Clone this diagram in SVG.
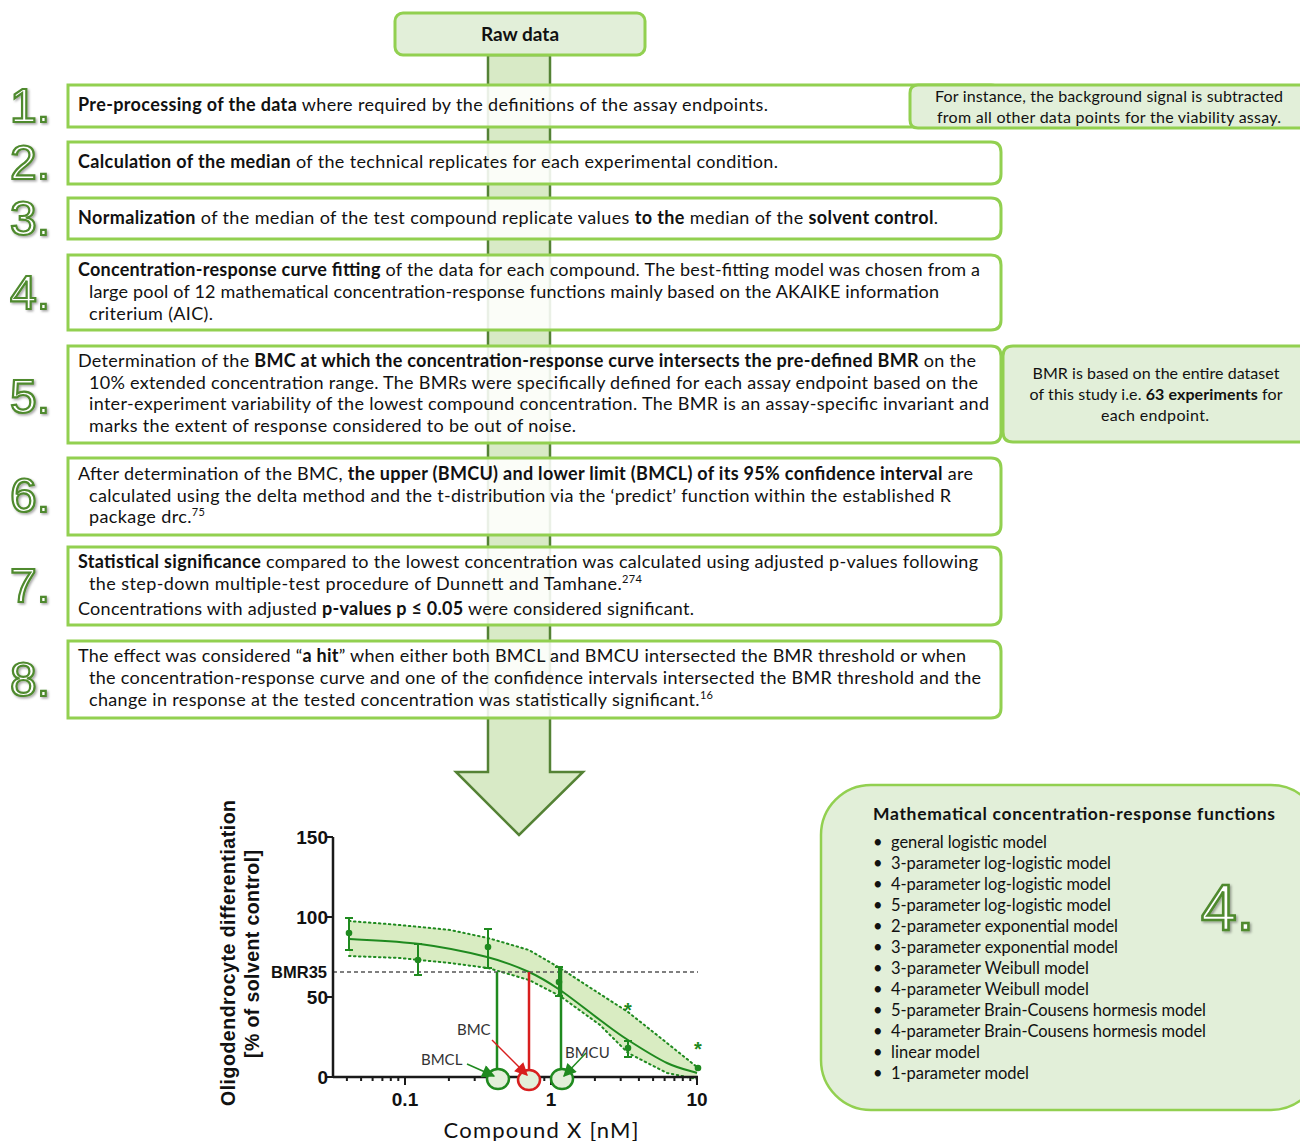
<svg xmlns="http://www.w3.org/2000/svg" width="1300" height="1141" viewBox="0 0 1300 1141">
<style>
.box{fill:#fff;fill-opacity:.88;stroke:#92d050;stroke-width:3}
.note{fill:#e2efd9;stroke:#92d050;stroke-width:3}
.t{font-family:Lato,"Liberation Sans",sans-serif;font-size:18px;fill:#111}
.b{font-weight:bold}
.sup{font-size:11px}
.num{font-family:"Liberation Sans",Arial,sans-serif;font-size:48px;fill:#fff;stroke:#4f8a2e;stroke-width:2.2;filter:url(#sh)}
.nt{font-family:Lato,"Liberation Sans",sans-serif;font-size:16px;fill:#111;text-anchor:middle}
.li{font-family:Lato,"Liberation Sans",sans-serif;font-size:16.5px;fill:#111}
.ax{stroke:#1a1a1a;stroke-width:2.5;fill:none}
.tk{font-family:"Liberation Sans",Arial,sans-serif;font-weight:bold;font-size:19px;fill:#111}
.g{stroke:#1f8a1f;fill:none;stroke-width:2}
.lbl{font-family:Lato,"Liberation Sans",sans-serif;font-size:15px;fill:#333}
</style>
<defs>
<filter id="sh" x="-20%" y="-20%" width="150%" height="150%"><feDropShadow dx="1.5" dy="1.5" stdDeviation="1" flood-color="#000" flood-opacity="0.35"/></filter>
<marker id="ahG" viewBox="0 0 10 10" refX="9" refY="5" markerWidth="15" markerHeight="13" markerUnits="userSpaceOnUse" orient="auto"><path d="M0,0 L10,5 L0,10 z" fill="#1f8a1f"/></marker>
<marker id="ahR" viewBox="0 0 10 10" refX="9" refY="5" markerWidth="15" markerHeight="13" markerUnits="userSpaceOnUse" orient="auto"><path d="M0,0 L10,5 L0,10 z" fill="#d81e1e"/></marker>
</defs>
<rect width="1300" height="1141" fill="#fff"/>

<g id="connectors">
<path d="M488,55 V772 H456 L519,835 L583,772 H550 V55 Z" fill="#d8eac6" stroke="#548235" stroke-width="2.5" stroke-linejoin="miter"/>
</g>

<g id="raw-data">
<rect x="395" y="13" width="250" height="42" rx="8" class="note"/>
<text x="520" y="41" text-anchor="middle" font-family="Lato,'Liberation Sans',sans-serif" font-weight="bold" font-size="19" fill="#111">Raw data</text>
</g>

<g id="step1">
<path class="box" d="M68,85 H991 Q1001,85 1001,95 V117 Q1001,127 991,127 H68 Z"/>
<text class="num" x="10" y="122">1.</text>
<text class="t" x="78" y="111" textLength="690"><tspan class="b">Pre-processing of the data</tspan> where required by the definitions of the assay endpoints.</text>
</g>
<g id="note1">
<path class="note" d="M1320,85 H918 Q910,85 910,93 V120 Q910,128 918,128 H1320 Z"/>
<text class="nt" x="1109" y="102" textLength="348">For instance, the background signal is subtracted</text>
<text class="nt" x="1109" y="123" textLength="344">from all other data points for the viability assay.</text>
</g>

<g id="step2">
<path class="box" d="M68,142 H991 Q1001,142 1001,152 V174 Q1001,184 991,184 H68 Z"/>
<text class="num" x="10" y="179">2.</text>
<text class="t" x="78" y="168" textLength="700"><tspan class="b">Calculation of the median</tspan> of the technical replicates for each experimental condition.</text>
</g>

<g id="step3">
<path class="box" d="M68,198 H991 Q1001,198 1001,208 V229 Q1001,239 991,239 H68 Z"/>
<text class="num" x="10" y="235">3.</text>
<text class="t" x="78" y="224" textLength="860"><tspan class="b">Normalization</tspan> of the median of the test compound replicate values <tspan class="b">to the</tspan> median of the <tspan class="b">solvent control</tspan>.</text>
</g>

<g id="step4">
<path class="box" d="M68,255 H991 Q1001,255 1001,265 V320 Q1001,330 991,330 H68 Z"/>
<text class="num" x="10" y="309">4.</text>
<text class="t" x="78" y="276" textLength="902"><tspan class="b">Concentration-response curve fitting</tspan> of the data for each compound. The best-fitting model was chosen from a</text>
<text class="t" x="89" y="298" textLength="850">large pool of 12 mathematical concentration-response functions mainly based on the AKAIKE information</text>
<text class="t" x="89" y="320" textLength="124">criterium (AIC).</text>
</g>

<g id="step5">
<path class="box" d="M68,346 H991 Q1001,346 1001,356 V433 Q1001,443 991,443 H68 Z"/>
<text class="num" x="10" y="413">5.</text>
<text class="t" x="78" y="367" textLength="898">Determination of the <tspan class="b">BMC at which the concentration-response curve intersects the pre-defined BMR</tspan> on the</text>
<text class="t" x="89" y="389" textLength="889">10% extended concentration range. The BMRs were specifically defined for each assay endpoint based on the</text>
<text class="t" x="89" y="410" textLength="900">inter-experiment variability of the lowest compound concentration. The BMR is an assay-specific invariant and</text>
<text class="t" x="89" y="432" textLength="487">marks the extent of response considered to be out of noise.</text>
</g>
<g id="note5">
<path class="note" d="M1320,346 H1013 Q1003,346 1003,356 V432 Q1003,442 1013,442 H1320 Z"/>
<text class="nt" x="1156" y="379" textLength="247">BMR is based on the entire dataset</text>
<text class="nt" x="1156" y="400" textLength="253">of this study i.e. <tspan font-weight="bold">63 experiments</tspan> for</text>
<text class="nt" x="1155" y="421" textLength="108">each endpoint.</text>
</g>

<g id="step6">
<path class="box" d="M68,458 H991 Q1001,458 1001,468 V525 Q1001,535 991,535 H68 Z"/>
<text class="num" x="10" y="512">6.</text>
<text class="t" x="78" y="480" textLength="895">After determination of the BMC, <tspan class="b">the upper (BMCU) and lower limit (BMCL) of its 95% confidence interval</tspan> are</text>
<text class="t" x="89" y="502" textLength="862">calculated using the delta method and the t-distribution via the ‘predict’ function within the established R</text>
<text class="t" x="89" y="523" textLength="116">package drc.<tspan class="sup" dy="-7">75</tspan></text>
</g>

<g id="step7">
<path class="box" d="M68,547 H991 Q1001,547 1001,557 V615 Q1001,625 991,625 H68 Z"/>
<text class="num" x="10" y="602">7.</text>
<text class="t" x="78" y="568" textLength="900"><tspan class="b">Statistical significance</tspan> compared to the lowest concentration was calculated using adjusted p-values following</text>
<text class="t" x="89" y="590" textLength="553">the step-down multiple-test procedure of Dunnett and Tamhane.<tspan class="sup" dy="-7">274</tspan></text>
<text class="t" x="78" y="615" textLength="616">Concentrations with adjusted <tspan class="b">p-values p ≤ 0.05</tspan> were considered significant.</text>
</g>

<g id="step8">
<path class="box" d="M68,641 H991 Q1001,641 1001,651 V708 Q1001,718 991,718 H68 Z"/>
<text class="num" x="10" y="696">8.</text>
<text class="t" x="78" y="662" textLength="888">The effect was considered “<tspan class="b">a hit</tspan>” when either both BMCL and BMCU intersected the BMR threshold or when</text>
<text class="t" x="89" y="684" textLength="892">the concentration-response curve and one of the confidence intervals intersected the BMR threshold and the</text>
<text class="t" x="89" y="706" textLength="624">change in response at the tested concentration was statistically significant.<tspan class="sup" dy="-7">16</tspan></text>
</g>

<g id="functions">
<rect x="821" y="785" width="500" height="325" rx="50" fill="#e2efd9" stroke="#92d050" stroke-width="2.5"/>
<text x="873" y="820" font-family="Lato,'Liberation Sans',sans-serif" font-weight="bold" font-size="17.5" fill="#111" textLength="402">Mathematical concentration-response functions</text>
<g class="li">
<text x="873" y="848">•</text><text x="891" y="848" textLength="156">general logistic model</text>
<text x="873" y="869">•</text><text x="891" y="869" textLength="220">3-parameter log-logistic model</text>
<text x="873" y="890">•</text><text x="891" y="890" textLength="220">4-parameter log-logistic model</text>
<text x="873" y="911">•</text><text x="891" y="911" textLength="220">5-parameter log-logistic model</text>
<text x="873" y="932">•</text><text x="891" y="932" textLength="227">2-parameter exponential model</text>
<text x="873" y="953">•</text><text x="891" y="953" textLength="227">3-parameter exponential model</text>
<text x="873" y="974">•</text><text x="891" y="974" textLength="198">3-parameter Weibull model</text>
<text x="873" y="995">•</text><text x="891" y="995" textLength="198">4-parameter Weibull model</text>
<text x="873" y="1016">•</text><text x="891" y="1016" textLength="315">5-parameter Brain-Cousens hormesis model</text>
<text x="873" y="1037">•</text><text x="891" y="1037" textLength="315">4-parameter Brain-Cousens hormesis model</text>
<text x="873" y="1058">•</text><text x="891" y="1058" textLength="89">linear model</text>
<text x="873" y="1079">•</text><text x="891" y="1079" textLength="138">1-parameter model</text>
</g>
<text class="num" x="1201" y="930" style="font-size:64px;stroke-width:2.6">4.</text>
</g>

<g id="chart">
<path d="M349,921 L400,925 L450,930 L488,938 L529,950 L560,968 L600,994 L628,1012 L667,1043 L697,1067 L697,1079 L667,1073 L628,1053 L600,1025 L560,996 L529,980 L488,968 L450,963 L400,958 L349,956 Z" fill="#d9ecc2"/>
<polyline class="g" stroke-dasharray="1.5 3.5" stroke-linecap="round" points="349,921 400,925 450,930 488,938 529,950 560,968 600,994 628,1012 667,1043 697,1067"/>
<polyline class="g" stroke-dasharray="1.5 3.5" stroke-linecap="round" points="349,956 400,958 450,963 488,968 529,980 560,996 600,1025 628,1053 667,1073 697,1079"/>
<path class="g" d="M349,939 C360.8,939.8 397,941 420,944 C443,947 468.8,952.3 487,957 C505.2,961.7 516.8,966.5 529,972 C541.2,977.5 548.2,982 560,990 C571.8,998 588.7,1011.7 600,1020 C611.3,1028.3 616.8,1032.8 628,1040 C639.2,1047.2 655.5,1057.5 667,1063 C678.5,1068.5 692,1071.3 697,1073"/>
<line x1="333" y1="972" x2="698" y2="972" stroke="#555" stroke-width="1.3" stroke-dasharray="4 3"/>
<g stroke="#1f8a1f" stroke-width="2" fill="#1f8a1f">
<path d="M349,918 V950 M345,918 H353 M345,950 H353"/>
<circle cx="349" cy="933" r="3.3" stroke="none"/>
<path d="M418,944 V975 M414,944 H422 M414,975 H422"/>
<circle cx="418" cy="960" r="3.3" stroke="none"/>
<path d="M488,929 V968 M484,929 H492 M484,968 H492"/>
<circle cx="488" cy="947" r="3.3" stroke="none"/>
<path d="M559,967 V996 M555,967 H563 M555,996 H563"/>
<circle cx="559" cy="982" r="3.3" stroke="none"/>
<path d="M628,1041 V1057 M624,1041 H632 M624,1057 H632"/>
<circle cx="628" cy="1048" r="3.3" stroke="none"/>
<circle cx="698" cy="1068" r="3.3" stroke="none"/>
</g>
<text x="628" y="1017" text-anchor="middle" font-family="'Liberation Sans',sans-serif" font-weight="bold" font-size="20" fill="#1f8a1f">*</text>
<text x="698" y="1056" text-anchor="middle" font-family="'Liberation Sans',sans-serif" font-weight="bold" font-size="20" fill="#1f8a1f">*</text>
<line x1="497" y1="972" x2="497" y2="1068" stroke="#1f8a1f" stroke-width="2.5"/>
<line x1="529" y1="972" x2="529" y2="1069" stroke="#d81e1e" stroke-width="2.5"/>
<line x1="561" y1="967" x2="561" y2="1068" stroke="#1f8a1f" stroke-width="2.5"/>
<path class="ax" d="M333,837 V1078 M333,1077 H698"/>
<path stroke="#1a1a1a" stroke-width="2" d="M327,837 H333 M327,917 H333 M327,997 H333 M327,1077 H333"/>
<path stroke="#1a1a1a" stroke-width="2" d="M405,1077 v8 M551,1077 v8 M697,1077 v8 M346.9,1077 v4 M361.1,1077 v4 M372.6,1077 v4 M382.4,1077 v4 M390.8,1077 v4 M398.3,1077 v4 M448.9,1077 v4 M474.7,1077 v4 M492.9,1077 v4 M507.1,1077 v4 M518.6,1077 v4 M528.4,1077 v4 M536.8,1077 v4 M544.3,1077 v4 M594.9,1077 v4 M620.7,1077 v4 M638.9,1077 v4 M653.1,1077 v4 M664.6,1077 v4 M674.4,1077 v4 M682.8,1077 v4 M690.3,1077 v4"/>
<ellipse cx="498" cy="1079" rx="11" ry="10" fill="#e2efd9" stroke="#1f8a1f" stroke-width="2.5"/>
<ellipse cx="529" cy="1080" rx="11" ry="10" fill="#e2efd9" stroke="#d81e1e" stroke-width="2.5"/>
<ellipse cx="562" cy="1079" rx="11" ry="10" fill="#e2efd9" stroke="#1f8a1f" stroke-width="2.5"/>
<line x1="467" y1="1064" x2="494" y2="1076" stroke="#1f8a1f" stroke-width="1.5" marker-end="url(#ahG)"/>
<line x1="492" y1="1040" x2="527" y2="1075" stroke="#d81e1e" stroke-width="1.5" marker-end="url(#ahR)"/>
<line x1="586" y1="1053" x2="564" y2="1076" stroke="#1f8a1f" stroke-width="1.5" marker-end="url(#ahG)"/>
<text class="lbl" x="421" y="1065">BMCL</text>
<text class="lbl" x="457" y="1035">BMC</text>
<text class="lbl" x="565" y="1058">BMCU</text>
<g class="tk" text-anchor="end">
<text x="328" y="844">150</text>
<text x="328" y="924">100</text>
<text x="328" y="1004">50</text>
<text x="328" y="1084">0</text>
<text x="327" y="978" style="font-size:16.5px">BMR35</text>
</g>
<g class="tk" text-anchor="middle">
<text x="405" y="1106">0.1</text>
<text x="551" y="1106">1</text>
<text x="697" y="1106">10</text>
</g>
<text transform="translate(235,953) rotate(-90)" text-anchor="middle" font-family="'Liberation Sans',sans-serif" font-weight="bold" font-size="19.5" fill="#111" textLength="306">Oligodendrocyte differentiation</text>
<text transform="translate(259,954) rotate(-90)" text-anchor="middle" font-family="'Liberation Sans',sans-serif" font-weight="bold" font-size="19.5" fill="#111" textLength="208">[% of solvent control]</text>
<text x="541" y="1138" text-anchor="middle" font-family="Lato,'Liberation Sans',sans-serif" font-size="22" fill="#111" textLength="195">Compound X [nM]</text>
</g>
</svg>
